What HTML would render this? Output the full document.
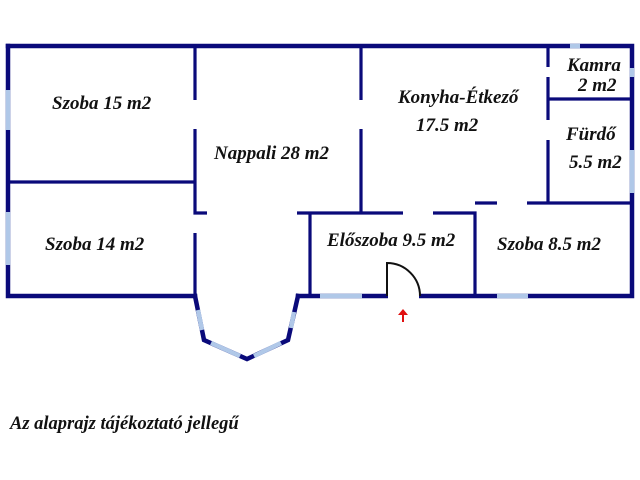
<!DOCTYPE html>
<html><head><meta charset="utf-8"><style>
body{margin:0;background:#fff}
svg{display:block}
text{font-family:"Liberation Serif",serif;font-weight:bold;font-style:italic;fill:#111}
</style></head><body>
<svg width="640" height="480" viewBox="0 0 640 480">
<g stroke="#0a0a7a" fill="none" stroke-linecap="square">
<path d="M8 46 H632 V296 H298" stroke-width="4.5"/>
<path d="M195 296 H8 V46" stroke-width="4.5"/>
<path d="M195 296 L204 340 L247 359 L288 340 L298 296" stroke-width="4.5" stroke-linejoin="miter"/>
<g stroke-width="3.2" stroke-linecap="butt">
<path d="M8 182 H195"/>
<path d="M195 46 V100 M195 129 V213 H207 M195 233 V296"/>
<path d="M361 46 V100 M361 129 V213"/>
<path d="M297 213 H403 M433 213 H475 V296"/>
<path d="M310 213 V296"/>
<path d="M548 46 V67 M548 77 V120 M548 140 V203"/>
<path d="M548 99 H632"/>
<path d="M475 203 H497 M527 203 H632"/>
</g>
</g>
<g stroke="#b0c8e8" stroke-width="4.5">
<path d="M8 90 V130 M8 212 V265"/>
<path d="M570 46 H580"/>
<path d="M632 68 V77 M632 150 V193"/>
<path d="M320 296 H362 M497 296 H528"/>
<path d="M198 310 L202 330 M211 343 L240 356 M254 356 L281 343 M291 328 L294 312"/>
</g>
<rect x="388" y="292" width="31" height="8" fill="#fff"/>
<path d="M387 296 V263 A33 33 0 0 1 420 296" stroke="#111" stroke-width="2" fill="none"/>
<path d="M403 322 V313" stroke="#e01010" stroke-width="2"/>
<path d="M398 315 L403 309 L408 315 Z" fill="#e01010"/>
<g font-size="19">
<text x="52" y="109">Szoba 15 m2</text>
<text x="214" y="159">Nappali 28 m2</text>
<text x="45" y="250">Szoba 14 m2</text>
<text x="398" y="103">Konyha-Étkező</text>
<text x="416" y="131">17.5 m2</text>
<text x="567" y="71">Kamra</text>
<text x="578" y="91">2 m2</text>
<text x="566" y="140">Fürdő</text>
<text x="569" y="168">5.5 m2</text>
<text x="327" y="246">Előszoba 9.5 m2</text>
<text x="497" y="250">Szoba 8.5 m2</text>
</g>
<text x="10" y="429" font-size="18.5">Az alaprajz tájékoztató jellegű</text>
</svg>
</body></html>
